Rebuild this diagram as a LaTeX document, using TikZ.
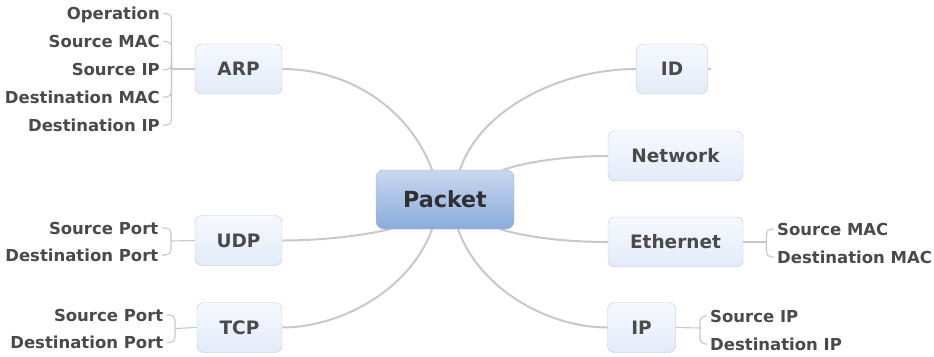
\documentclass[tikz,border=0pt]{standalone}
\usepackage{fontspec}
\setmainfont{DejaVu Sans}
\usetikzlibrary{backgrounds}
\definecolor{txt}{HTML}{4A4A4A}
\definecolor{hubtxt}{HTML}{303030}
\definecolor{boxtop}{HTML}{F6F9FE}
\definecolor{boxbot}{HTML}{E3EBF9}
\definecolor{boxline}{HTML}{BCC6D8}
\definecolor{hubtop}{HTML}{C9D8F0}
\definecolor{hubbot}{HTML}{8BABDB}
\definecolor{hubline}{HTML}{98AED2}
\definecolor{wire}{HTML}{C8C8C8}
\begin{document}
\begin{tikzpicture}[x=1pt,y=-1pt,
  hub/.style={draw=hubline, rounded corners=8pt, top color=hubtop, bottom color=hubbot,
    text=hubtxt, font=\fontsize{22.2}{24}\selectfont\bfseries, inner sep=0pt,
    text height=16pt, text depth=0pt, minimum width=138pt, minimum height=59pt},
  topic/.style={draw=boxline, rounded corners=7pt, top color=boxtop, bottom color=boxbot,
    text=txt, font=\fontsize{18.5}{20}\selectfont\bfseries, inner sep=0pt,
    text height=13.5pt, text depth=0pt, minimum height=50pt},
  leaf/.style={text=txt, font=\fontsize{16.5}{18}\selectfont\bfseries, inner sep=0pt,
    text height=12pt, text depth=0pt},
  leafL/.style={leaf, anchor=east},
  leafR/.style={leaf, anchor=west},
  branch/.style={draw=wire, line width=2pt, line cap=round},
  brace/.style={draw=wire, line width=1.1pt, rounded corners=5pt},
]
\useasboundingbox (0,0) rectangle (934,356);

% central topic and main branches
\node[hub] (packet) at (445,199.5) {Packet};
\node[topic, minimum width=87pt]  (arp)      at (238.5,69)    {ARP};
\node[topic, minimum width=87pt]  (udp)      at (238.5,240.5) {UDP};
\node[topic, minimum width=85pt]  (tcp)      at (239.5,327.5) {TCP};
\node[topic, minimum width=71pt]  (id)       at (672,69)      {ID};
\node[topic, minimum width=135pt] (network)  at (675.5,156)   {Network};
\node[topic, minimum width=135pt] (ethernet) at (675.5,242)   {Ethernet};
\node[topic, minimum width=68pt]  (ip)       at (641.5,327.5) {IP};

% ARP fields
\node[leafL] (op)   at (160,13.5) {Operation};
\node[leafL] (smac) at (160,41.5) {Source MAC};
\node[leafL] (sip)  at (160,69.5) {Source IP};
\node[leafL] (dmac) at (160,97)   {Destination MAC};
\node[leafL] (dip)  at (160,125)  {Destination IP};
\coordinate (arpj) at (171.5,69);

% UDP fields
\node[leafL] (usp) at (158.5,228) {Source Port};
\node[leafL] (udp2) at (158.5,255) {Destination Port};
\coordinate (udpj) at (171,241);

% TCP fields
\node[leafL] (tsp) at (163.5,315)   {Source Port};
\node[leafL] (tdp) at (163.5,342.5) {Destination Port};
\coordinate (tcpj) at (175,328.5);

% Ethernet fields
\node[leafR] (esm) at (777,229) {Source MAC};
\node[leafR] (edm) at (777,257) {Destination MAC};
\coordinate (ethj) at (766.5,242);

% IP fields
\node[leafR] (isi) at (710,316) {Source IP};
\node[leafR] (idi) at (710,344) {Destination IP};
\coordinate (ipj) at (700,328);

\coordinate (idend) at ([xshift=3pt]id.east);

\begin{scope}[on background layer]
  \draw[branch] ([xshift=-13pt]packet.north) .. controls +(-22,-60) and +(68,0) .. (arp.east);
  \draw[branch] ([xshift=15pt]packet.north) .. controls +(20,-60) and +(-77,0) .. (id.west);
  \draw[branch] ([xshift=-11pt]packet.north east) .. controls +(27,-9) and +(-38,0) .. (network.west);
  \draw[branch] ([xshift=-14pt]packet.south east) .. controls +(30,9) and +(-38,0) .. (ethernet.west);
  \draw[branch] ([xshift=13pt]packet.south) .. controls +(22,61) and +(-58,0) .. (ip.west);
  \draw[branch] ([xshift=-13pt]packet.south) .. controls +(-22,61) and +(58,0) .. (tcp.east);
  \draw[branch] ([xshift=14pt]packet.south west) .. controls +(-30,7) and +(38,0) .. (udp.east);
\end{scope}

% brackets joining fields to their topic
\draw[brace] (arp.west) -- (arpj);
\foreach \f in {op,smac,sip,dmac,dip} \draw[brace] ([xshift=3pt]\f.east) -| (arpj);
\draw[brace] (udp.west) -- (udpj);
\foreach \f in {usp,udp2} \draw[brace] ([xshift=3pt]\f.east) -| (udpj);
\draw[brace] (tcp.west) -- (tcpj);
\foreach \f in {tsp,tdp} \draw[brace] ([xshift=3pt]\f.east) -| (tcpj);
\draw[brace] (ethernet.east) -- (ethj);
\foreach \f in {esm,edm} \draw[brace] ([xshift=-3pt]\f.west) -| (ethj);
\draw[brace] (ip.east) -- (ipj);
\foreach \f in {isi,idi} \draw[brace] ([xshift=-3pt]\f.west) -| (ipj);
\draw[brace] (id.east) -- (idend);
\end{tikzpicture}
\end{document}
